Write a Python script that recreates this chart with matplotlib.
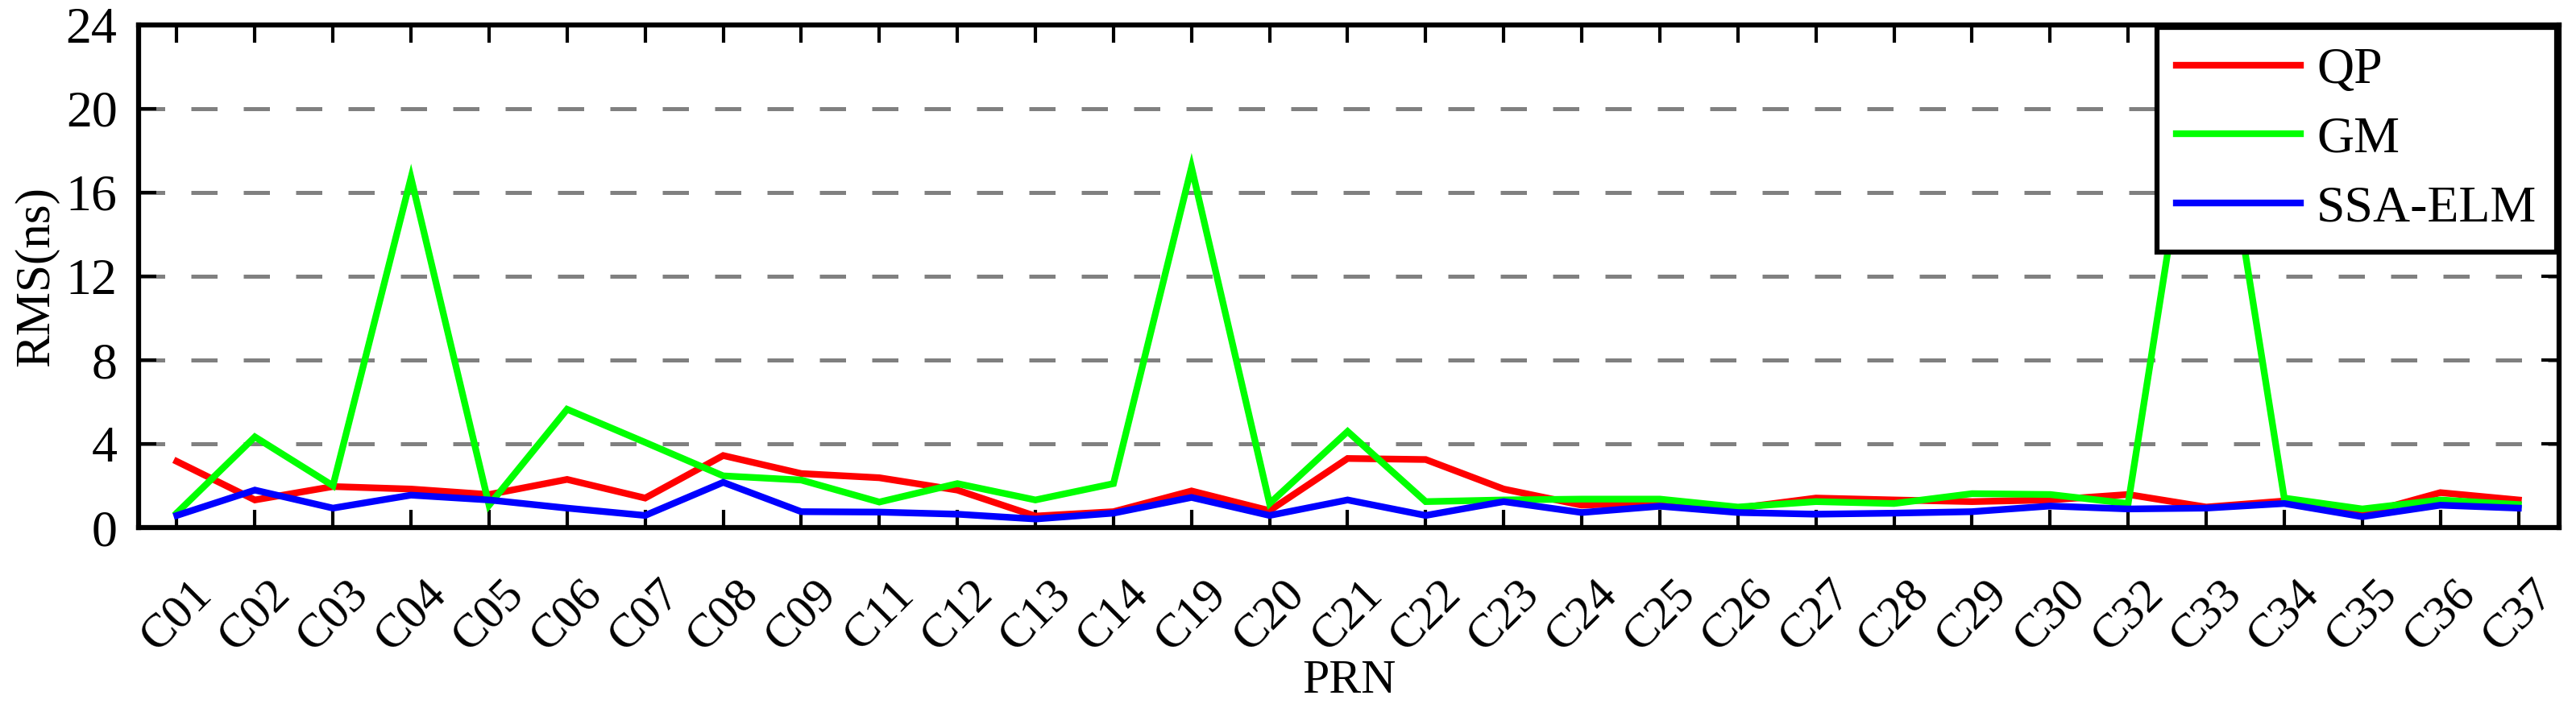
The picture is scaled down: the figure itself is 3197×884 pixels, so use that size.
import matplotlib
matplotlib.use("Agg")
import matplotlib.pyplot as plt
import numpy as np

prn = ['C01', 'C02', 'C03', 'C04', 'C05', 'C06', 'C07', 'C08', 'C09', 'C11',
       'C12', 'C13', 'C14', 'C19', 'C20', 'C21', 'C22', 'C23', 'C24', 'C25',
       'C26', 'C27', 'C28', 'C29', 'C30', 'C32', 'C33', 'C34', 'C35', 'C36', 'C37']

qp = [3.16, 1.32, 1.96, 1.84, 1.58, 2.30, 1.41, 3.44, 2.58, 2.38,
      1.79, 0.55, 0.76, 1.75, 0.81, 3.30, 3.25, 1.84, 1.07, 1.20,
      0.93, 1.41, 1.32, 1.24, 1.32, 1.58, 0.98, 1.27, 0.64, 1.67, 1.32]
gm = [0.70, 4.33, 2.00, 16.70, 1.07, 5.65, 4.07, 2.47, 2.27, 1.22,
      2.10, 1.32, 2.10, 17.20, 1.15, 4.59, 1.24, 1.32, 1.36, 1.36,
      0.98, 1.24, 1.15, 1.62, 1.58, 1.15, 24.8, 1.41, 0.89, 1.32, 1.10]
ssa_elm = [0.58, 1.79, 0.93, 1.55, 1.32, 0.93, 0.58, 2.16, 0.76, 0.74,
           0.64, 0.41, 0.69, 1.44, 0.58, 1.32, 0.58, 1.24, 0.72, 1.02,
           0.72, 0.64, 0.69, 0.76, 1.03, 0.89, 0.93, 1.15, 0.52, 1.07, 0.93]

y_ticks = [0, 4, 8, 12, 16, 20, 24]

plt.rcParams['font.family'] = ['Liberation Serif', 'DejaVu Serif']

fig = plt.figure(figsize=(31.97, 8.84), dpi=100)
ax = fig.add_axes([0.0538, 0.259, 0.9396, 0.706])

x = np.arange(len(prn))
ax.plot(x, qp, color='#ff0000', lw=6, label='QP', solid_joinstyle='miter')
ax.plot(x, gm, color='#00ff00', lw=6, label='GM', solid_joinstyle='miter')
ax.plot(x, ssa_elm, color='#0000ff', lw=6, label='SSA-ELM', solid_joinstyle='miter')

ax.set_xlim(-0.49, 30.52)
ax.set_ylim(0, 24)
ax.set_xticks(x)
ax.set_xticklabels(prn, rotation=45, ha='center', fontsize=43)
ax.set_yticks(y_ticks)
ax.set_yticklabels([str(v) for v in y_ticks], fontsize=46)

ax.tick_params(axis='x', direction='in', length=16, width=3, top=True, pad=40)
ax.tick_params(axis='y', direction='in', length=16, width=3, right=True, pad=19)

for s in ax.spines.values():
    s.set_linewidth(4.5)

# dashed horizontal grid
for v in y_ticks[1:-1]:
    ax.axhline(v, color='#808080', lw=3.6, dashes=(6.5, 6.5), zorder=1)

ax.set_ylabel('RMS(ns)', fontsize=44, labelpad=6)
ax.set_xlabel('PRN', fontsize=43)
ax.xaxis.set_label_coords(0.5, -0.262)

leg = ax.legend(loc='upper right', fontsize=46, frameon=True, fancybox=False,
                edgecolor='black', framealpha=1, borderaxespad=0.05,
                handlelength=2.4, handletextpad=0.32, labelspacing=0.42,
                borderpad=0.38)
leg.get_frame().set_linewidth(4.5)

fig.savefig('out.png', dpi=100)
